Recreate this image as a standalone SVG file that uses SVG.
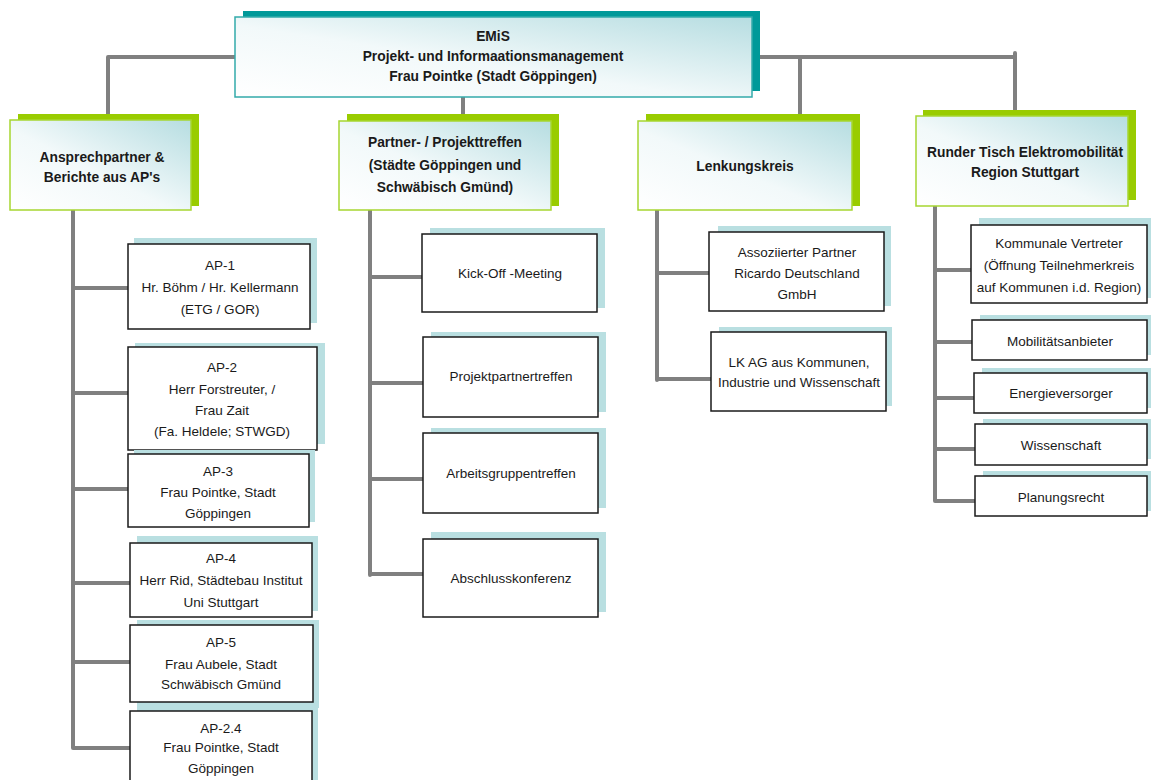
<svg xmlns="http://www.w3.org/2000/svg" width="1151" height="780" viewBox="0 0 1151 780">
<defs>
<linearGradient id="g" x1="0" y1="1" x2="1" y2="0">
<stop offset="0" stop-color="#ffffff"/>
<stop offset="0.45" stop-color="#f2f9fa"/>
<stop offset="1" stop-color="#b6dde1"/>
</linearGradient>
<style>
text{font-family:"Liberation Sans",Arial,sans-serif;font-size:13.5px;fill:#1a1a1a;text-anchor:middle}
.b{font-weight:bold;font-size:13.8px}
.top{fill:url(#g);stroke:#33aaaa;stroke-width:1.5}
.topsh{fill:#009999}
.l2{fill:url(#g);stroke:#a6d631;stroke-width:1.5}
.l2sh{fill:#99cc00}
.ch{fill:#ffffff;stroke:#1a1a1a;stroke-width:1.5}
.chsh{fill:#b9dfe1}
.c{fill:none;stroke:#808080;stroke-width:4;stroke-linecap:round}
</style>
</defs>
<rect width="1151" height="780" fill="#ffffff"/>
<g id="connectors">
<path class="c" d="M108,57 H1015 M108,57 V120 M463,97 V120 M800,57 V114 M1015,53 V112"/>
<path class="c" d="M73,210 V748 M73,288 H128 M73,393 H128 M73,489 H128 M73,583 H130 M73,662 H130 M73,748 H130"/>
<path class="c" d="M370,210 V575 M370,277 H422 M370,383 H423 M370,479 H423 M370,574 H423"/>
<path class="c" d="M657,210 V380 M657,273 H709 M657,379 H711"/>
<path class="c" d="M935,206 V501 M935,270 H971 M935,342 H972 M935,398 H974 M935,449 H975 M935,501 H975"/>
</g>
<g id="emis">
<rect class="topsh" x="243" y="11" width="517" height="80"/>
<rect class="top" x="235" y="17" width="517" height="80"/>
<text class="b" x="493" y="41">EMiS</text>
<text class="b" x="493" y="61">Projekt- und Informaationsmanagement</text>
<text class="b" x="493" y="81">Frau Pointke (Stadt Göppingen)</text>
</g>
<g id="ansprechpartner">
<rect class="l2sh" x="18" y="114" width="181" height="92"/>
<rect class="l2" x="10" y="120" width="181" height="90"/>
<text class="b" x="102" y="162">Ansprechpartner &amp;</text>
<text class="b" x="102" y="182">Berichte aus AP's</text>
</g>
<g id="partnertreffen">
<rect class="l2sh" x="347" y="114" width="212" height="92"/>
<rect class="l2" x="339" y="121" width="212" height="89"/>
<text class="b" x="445" y="147">Partner- / Projekttreffen</text>
<text class="b" x="445" y="170">(Städte Göppingen und</text>
<text class="b" x="445" y="192">Schwäbisch Gmünd)</text>
</g>
<g id="lenkungskreis">
<rect class="l2sh" x="646" y="114" width="214" height="92"/>
<rect class="l2" x="638" y="121" width="214" height="89"/>
<text class="b" x="745" y="171">Lenkungskreis</text>
</g>
<g id="rundertisch">
<rect class="l2sh" x="923" y="110" width="213" height="90"/>
<rect class="l2" x="916" y="116" width="212" height="90"/>
<text class="b" x="1025" y="157">Runder Tisch Elektromobilität</text>
<text class="b" x="1025" y="177">Region Stuttgart</text>
</g>
<g id="ap1">
<rect class="chsh" x="134" y="238" width="183" height="85"/>
<rect class="ch" x="128" y="244" width="182" height="85"/>
<text x="220" y="270">AP-1</text>
<text x="220" y="292">Hr. Böhm / Hr. Kellermann</text>
<text x="220" y="314">(ETG / GOR)</text>
</g>
<g id="ap2">
<rect class="chsh" x="135" y="343" width="190" height="101"/>
<rect class="ch" x="128" y="347" width="189" height="103"/>
<text x="222" y="372">AP-2</text>
<text x="222" y="394">Herr Forstreuter, /</text>
<text x="222" y="415">Frau Zait</text>
<text x="222" y="436">(Fa. Heldele; STWGD)</text>
</g>
<g id="ap3">
<rect class="chsh" x="134" y="450" width="181" height="72"/>
<rect class="ch" x="128" y="454" width="181" height="73"/>
<text x="218" y="476">AP-3</text>
<text x="218" y="497">Frau Pointke, Stadt</text>
<text x="218" y="518">Göppingen</text>
</g>
<g id="ap4">
<rect class="chsh" x="137" y="536" width="181" height="75"/>
<rect class="ch" x="130" y="543" width="182" height="74"/>
<text x="221" y="563">AP-4</text>
<text x="221" y="585">Herr Rid, Städtebau Institut</text>
<text x="221" y="607">Uni Stuttgart</text>
</g>
<g id="ap5">
<rect class="chsh" x="137" y="620" width="182" height="88"/>
<rect class="ch" x="130" y="625" width="183" height="77"/>
<text x="221" y="647">AP-5</text>
<text x="221" y="669">Frau Aubele, Stadt</text>
<text x="221" y="689">Schwäbisch Gmünd</text>
</g>
<g id="ap24">
<rect class="chsh" x="137" y="704" width="181" height="80"/>
<rect class="ch" x="130" y="711" width="182" height="75"/>
<text x="221" y="733">AP-2.4</text>
<text x="221" y="752">Frau Pointke, Stadt</text>
<text x="221" y="773">Göppingen</text>
</g>
<g id="kickoff">
<rect class="chsh" x="430" y="228" width="175" height="80"/>
<rect class="ch" x="422" y="234" width="175" height="78"/>
<text x="510" y="278">Kick-Off -Meeting</text>
</g>
<g id="projektpartnertreffen">
<rect class="chsh" x="431" y="332" width="175" height="80"/>
<rect class="ch" x="423" y="337" width="175" height="80"/>
<text x="511" y="381">Projektpartnertreffen</text>
</g>
<g id="arbeitsgruppentreffen">
<rect class="chsh" x="431" y="428" width="175" height="80"/>
<rect class="ch" x="423" y="433" width="175" height="80"/>
<text x="511" y="478">Arbeitsgruppentreffen</text>
</g>
<g id="abschlusskonferenz">
<rect class="chsh" x="431" y="532" width="175" height="80"/>
<rect class="ch" x="423" y="539" width="175" height="78"/>
<text x="511" y="583">Abschlusskonferenz</text>
</g>
<g id="assoziierter">
<rect class="chsh" x="718" y="226" width="173" height="80"/>
<rect class="ch" x="709" y="232" width="175" height="79"/>
<text x="797" y="257">Assoziierter Partner</text>
<text x="797" y="278">Ricardo Deutschland</text>
<text x="797" y="299">GmbH</text>
</g>
<g id="lkag">
<rect class="chsh" x="719" y="327" width="173" height="79"/>
<rect class="ch" x="711" y="332" width="175" height="79"/>
<text x="799" y="367">LK AG aus Kommunen,</text>
<text x="799" y="387">Industrie und Wissenschaft</text>
</g>
<g id="kommunale">
<rect class="chsh" x="979" y="218" width="175" height="80"/>
<rect class="ch" x="971" y="225" width="176" height="78"/>
<text x="1059" y="248">Kommunale Vertreter</text>
<text x="1059" y="270">(Öffnung Teilnehmerkreis</text>
<text x="1059" y="292">auf Kommunen i.d. Region)</text>
</g>
<g id="mobilitaet">
<rect class="chsh" x="980" y="315" width="175" height="40"/>
<rect class="ch" x="972" y="320" width="175" height="40"/>
<text x="1060" y="346">Mobilitätsanbieter</text>
</g>
<g id="energie">
<rect class="chsh" x="982" y="368" width="175" height="40"/>
<rect class="ch" x="974" y="373" width="173" height="40"/>
<text x="1061" y="398">Energieversorger</text>
</g>
<g id="wissenschaft">
<rect class="chsh" x="983" y="419" width="175" height="40"/>
<rect class="ch" x="975" y="424" width="172" height="41"/>
<text x="1061" y="450">Wissenschaft</text>
</g>
<g id="planungsrecht">
<rect class="chsh" x="983" y="471" width="175" height="40"/>
<rect class="ch" x="975" y="476" width="172" height="40"/>
<text x="1061" y="502">Planungsrecht</text>
</g>
</svg>
